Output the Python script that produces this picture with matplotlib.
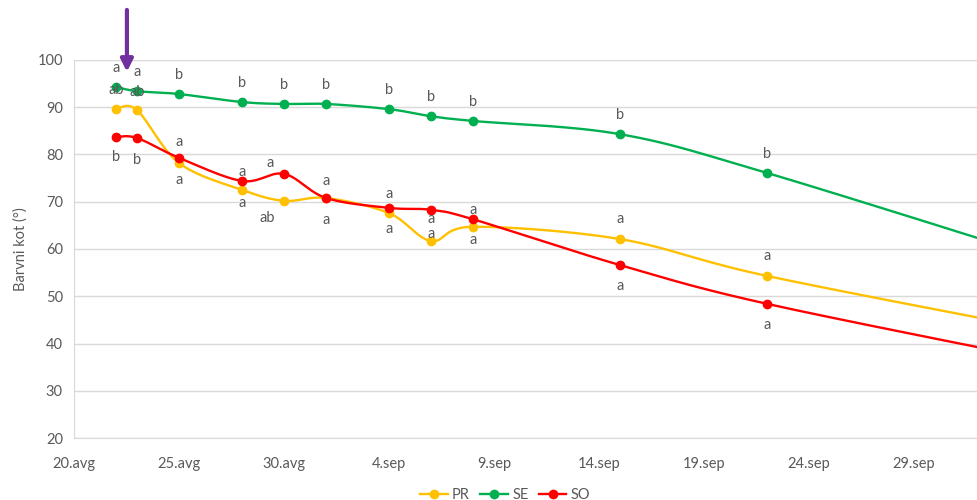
import numpy as np
from matplotlib import pyplot as plt

# days after 20.avg
days = [2, 3, 5, 8, 10, 12, 15, 17, 19, 26, 33, 47]

pr = [89.6, 89.4, 78.2, 72.5, 70.2, 70.8, 67.6, 61.7, 64.7, 62.1, 54.3, 42.1]
se = [94.3, 93.4, 92.8, 91.1, 90.7, 90.7, 89.6, 88.1, 87.1, 84.3, 76.1, 56.8]
so = [83.7, 83.5, 79.3, 74.4, 75.9, 70.8, 68.7, 68.3, 66.3, 56.6, 48.4, 35.7]

pr_lab = ['ab', 'ab', 'a', 'a', 'ab', 'a', 'a', 'a', 'a', 'a', 'a', '']
se_lab = ['a', 'a', 'b', 'b', 'b', 'b', 'b', 'b', 'b', 'b', 'b', '']
so_lab = ['b', 'b', 'a', 'a', 'a', 'a', 'a', 'a', 'a', 'a', 'a', '']

tick_days = [0, 5, 10, 15, 20, 25, 30, 35, 40]
tick_labels = ['20.avg', '25.avg', '30.avg', '4.sep', '9.sep', '14.sep',
               '19.sep', '24.sep', '29.sep']

# label offsets in pixels (dx, dy), dy positive = down on screen
pr_off = [(0, -19), (0, -18), (0, 17), (0, 13), (-17, 17), (0, 22), (0, 16),
          (0, -7), (0, 13), (0, -20), (0, -20), (0, 0)]
se_off = [(0, -19)] * 12
so_off = [(0, 20), (0, 22), (0, -16), (0, -9), (-14, -11), (0, -17), (0, -14),
          (0, 9), (0, -9), (0, 21), (0, 21), (0, 0)]


def smooth(x, y, ys=4.725 / 21.0, n=30):
    # Excel-like smoothed line: cubic bezier through points
    x = np.asarray(x, float)
    y = np.asarray(y, float) * ys
    px = np.concatenate([[x[0]], x, [x[-1]]])
    py = np.concatenate([[y[0]], y, [y[-1]]])
    ox, oy = [], []
    t = np.linspace(0, 1, n)
    for i in range(1, len(px) - 2):
        p0 = np.array([px[i], py[i]])
        p3 = np.array([px[i + 1], py[i + 1]])
        p1 = p0 + (np.array([px[i + 1], py[i + 1]]) - np.array([px[i - 1], py[i - 1]])) / 6
        p2 = p3 - (np.array([px[i + 2], py[i + 2]]) - np.array([px[i], py[i]])) / 6
        b = ((1 - t) ** 3)[:, None] * p0 + (3 * (1 - t) ** 2 * t)[:, None] * p1 \
            + (3 * (1 - t) * t ** 2)[:, None] * p2 + (t ** 3)[:, None] * p3
        ox.extend(b[:, 0])
        oy.extend(b[:, 1])
    return np.array(ox), np.array(oy) / ys


plt.rcParams['font.family'] = ['Lato', 'DejaVu Sans']
txt = '#595959'

fig = plt.figure(figsize=(9.77, 5), dpi=100)
ax = fig.add_axes([74 / 977, 62 / 500, 1 - 74 / 977, 378 / 500])

series = [('PR', pr, pr_lab, pr_off, '#FFC000'),
          ('SE', se, se_lab, se_off, '#00B050'),
          ('SO', so, so_lab, so_off, '#FF0000')]

for name, vals, labs, offs, col in series:
    sx, sy = smooth(days, vals)
    ax.plot(sx, sy, color=col, lw=1.7, zorder=3)
    ax.plot(days, vals, 'o', color=col, ms=6, zorder=4)
    ax.plot([], [], '-o', color=col, lw=1.7, ms=6, label=name)
    for d, v, l, (dx, dy) in zip(days, vals, labs, offs):
        if l:
            ax.annotate(l, (d, v), xytext=(dx, -dy), textcoords='offset pixels',
                        ha='center', va='center', fontsize=10.5, color=txt, zorder=5)

ax.annotate('', xy=(2.52, 97.5), xytext=(2.52, 110.6),
            arrowprops=dict(arrowstyle='-|>', color='#7030A0', lw=3,
                            mutation_scale=18, shrinkA=0, shrinkB=0),
            annotation_clip=False)

ax.set_xlim(0, 43)
ax.set_ylim(20, 100)
ax.set_yticks(range(20, 101, 10))
ax.set_xticks(tick_days)
ax.set_xticklabels(tick_labels)
ax.tick_params(length=0, labelsize=10.5, colors=txt, pad=8)
ax.tick_params(axis='x', pad=14)
ax.grid(axis='y', color='#D9D9D9', lw=1)
ax.set_axisbelow(True)
for s in ['top', 'right']:
    ax.spines[s].set_visible(False)
for s in ['left', 'bottom']:
    ax.spines[s].set_color('#D9D9D9')
ax.set_ylabel('Barvni kot (°)', fontsize=10.5, color=txt, labelpad=7)

fig.legend(loc='lower center', bbox_to_anchor=(0.517, -0.03), ncol=3, frameon=False,
           fontsize=10.5, labelcolor=txt, handlelength=1.9, columnspacing=0.7,
           handletextpad=0.3)

fig.savefig('out.png', dpi=100)
